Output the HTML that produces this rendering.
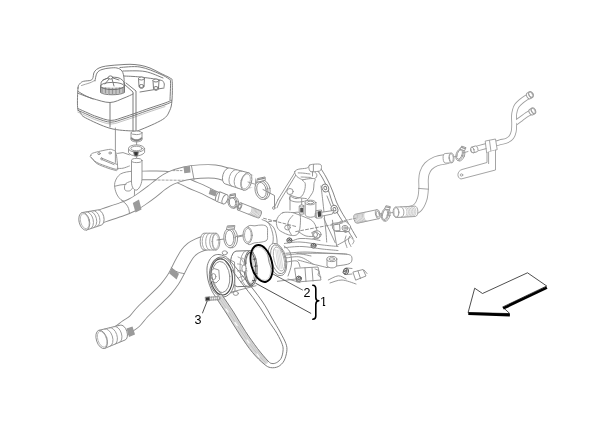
<!DOCTYPE html>
<html><head><meta charset="utf-8">
<style>
html,body{margin:0;padding:0;background:#fff;}
body{width:600px;height:428px;overflow:hidden;}
svg{display:block;}
text{font-family:"Liberation Sans",sans-serif;}
</style></head>
<body>
<svg width="600" height="428" viewBox="0 0 600 428">
<g fill="none" stroke="#8c8c8c" stroke-width="0.9" stroke-linejoin="round" stroke-linecap="round">
<g stroke="#777">
<path d="M317.5,170.3 C318.3,171.6 321,175.4 322.5,178 C324,180.6 325.3,183.4 326.5,186 C327.7,188.6 328.5,190.8 329.5,193.6 C330.5,196.4 331.2,199.9 332.5,203 C333.8,206.1 335.5,209.5 337,212.3 C338.5,215.1 339.9,217 341.6,219.8 C343.3,222.6 345.3,226.1 347.2,229.2 C349.1,232.3 351.9,236.9 352.9,238.5" />
<path d="M320.8,168.5 C321.7,169.9 324.5,174.2 326,177 C327.5,179.8 328.8,182.3 330,185 C331.2,187.7 332.2,190.2 333.3,193 C334.4,195.8 335.2,199 336.5,202 C337.8,205 339.5,208.2 341,211 C342.5,213.8 343.8,215.7 345.5,218.5 C347.2,221.3 349.2,224.8 351,228 C352.8,231.2 355.6,235.9 356.5,237.5" />
<ellipse cx="325.3" cy="188" rx="3.2" ry="4" fill="#fff" transform="rotate(-25 325.3 188)" />
<ellipse cx="325.3" cy="188" rx="1.4" ry="1.8" fill="none" transform="rotate(-25 325.3 188)" />
<ellipse cx="334.5" cy="209.2" rx="3.2" ry="4" fill="#fff" transform="rotate(-25 334.5 209.2)" />
<ellipse cx="334.5" cy="209.2" rx="1.4" ry="1.8" fill="none" transform="rotate(-25 334.5 209.2)" />
<ellipse cx="345.4" cy="228.2" rx="3.2" ry="4" fill="#fff" transform="rotate(-25 345.4 228.2)" />
<ellipse cx="345.4" cy="228.2" rx="1.4" ry="1.8" fill="none" transform="rotate(-25 345.4 228.2)" />
</g>
<path d="M321,186 C321.3,188.3 322.2,195.7 322.7,200 C323.2,204.3 323.6,208.4 324,212 C324.4,215.6 324.5,218.4 324.8,221.7 C325.1,225 325.7,228.6 326,232 C326.3,235.4 326.6,240.3 326.7,242" />
<path d="M324,218.8 L335.2,242.7" />
<path d="M332.4,220.2 L336.6,245.5" />
<path d="M327,196 L331,206" />
<path d="M295.5,171.5 L278,199.5" />
<path d="M297.2,172.8 L280,200.8" />
<path d="M278,199.5 L274.8,206.5" />
<path d="M280,200.8 L277,207.8" />
<path d="M294.7,171.7 C295.1,170.7 296.2,169.9 298.2,169.3 C300.1,168.7 304.5,168.6 306.4,168.2 C308.2,167.8 307.9,166.4 309.3,167 C310.7,167.6 313.2,170.3 314.5,171.7 C315.8,173.1 316.9,174 316.9,175.2 C316.9,176.4 316.3,178 314.5,178.7 C312.7,179.4 307.9,179.3 306,179.5 C304.1,179.7 304.2,180.2 302.9,179.9 C301.6,179.6 299.4,178.3 298.2,177.5 C297,176.7 296.5,176.2 295.9,175.2 C295.3,174.2 294.3,172.7 294.7,171.7 Z" fill="#fff" t="0.3"/>
<path d="M298.2,172.9 C299.2,172.9 302.1,173 304,173.2 C305.9,173.4 308.9,173.9 309.9,174" />
<path d="M301.1,177 C301.9,177 304.4,177.1 306,177.2 C307.6,177.3 310.2,177.4 311,177.5" />
<path d="M302.9,179.9 C301.3,180.7 304.9,181.7 305.2,183.4 C305.5,185.2 305.2,188.3 304.6,190.4 C304,192.5 303.1,194.8 301.7,196.2 C300.3,197.6 297.9,198.5 296,198.6 C294.1,198.7 291.5,196.3 290.5,196.5 C289.5,196.7 288.9,199.1 290,200 C291.1,200.9 294.3,201.9 297,202 C299.7,202.1 304.1,201.7 306.4,200.5 C308.7,199.3 309.8,196.7 311,195 C312.2,193.3 312.9,192.3 313.4,190.4 C313.9,188.5 313.8,185.4 314,183.4 C314.2,181.4 316.4,179.3 314.5,178.7 C312.6,178.1 304.4,179.1 302.9,179.9 Z" fill="#fff" t="0.3"/>
<path d="M290,195 C291.2,195.4 294.3,196.8 297,197.4 C299.7,198 304.8,198.4 306.4,198.6" />
<path d="M309.3,165.3 C310.1,164.6 312.1,164.3 314,164.2 C315.9,164 319.1,163.8 320.4,164.4 C321.6,165 321.5,166.5 321.5,167.5 C321.5,168.5 320.9,170 320.3,170.6 C319.7,171.2 319.6,171.1 318,171.3 C316.4,171.5 312.5,172.2 311,171.7 C309.5,171.2 309.3,169.6 309,168.5 C308.7,167.4 308.5,166 309.3,165.3 Z" fill="#fff" t="0.3"/>
<path d="M313.4,164.5 L313.4,171.2" />
<path d="M312.5,171.5 L312.5,176" />
<ellipse cx="290" cy="191.5" rx="3.2" ry="3" fill="#fff" />
<path d="M301.7,198.6 L301.7,210" />
<path d="M290,196 L290,210" />
<path d="M305.2,202.5 L305.2,215 C307.5,218 313.5,218 315.9,215 L315.9,202.5" fill="#fff"/>
<ellipse cx="310.5" cy="202.5" rx="5.3" ry="2.3" fill="#fff" />
<ellipse cx="310.5" cy="202.5" rx="3.3" ry="1.3" fill="none" />
<path d="M299.6,206 L303.8,205.7 L303.8,214 L299.6,214.3 Z" fill="#fff"/>
<ellipse cx="301.7" cy="206" rx="2.1" ry="1.1" fill="#fff" />
<path d="M300.2,208 L303.2,208 L303.2,212.5 L300.2,212.5 Z" fill="#555" stroke="none"/>
<path d="M315.6,213.2 L333.8,210.4 L332.4,214 L315.6,217.4 Z" fill="#fff"/>
<path d="M316.3,210.6 L321.5,210 L322,217.8 L316.8,218.2 Z" fill="#fff"/>
<path d="M317.5,211.5 L320.8,211 L321.2,216.5 L318,217 Z" fill="#444" stroke="none"/>
<path d="M332.4,223.5 L346,221.5 L350.7,226 L349,231.5 L336,231.5 L333,229 Z" fill="#fff"/>
<ellipse cx="345" cy="228" rx="3" ry="2.6" fill="#fff" />
<ellipse cx="345" cy="228" rx="1.3" ry="1.1" fill="none" />
<path d="M334,224.8 L339.5,224 L340,230.6 L334.5,230.8 Z" fill="#fff"/>
<path d="M346,236 C345.8,236.8 344.8,239.1 345,241 C345.2,242.9 346.7,246.4 347,247.5" />
<path d="M349.5,236.5 C349.3,237.2 348.2,239.3 348.5,241 C348.8,242.7 350.6,245.6 351,246.5" />
<path d="M352,238.5 C352.3,238.9 353.9,240.1 354,241 C354.1,241.9 352.8,243.5 352.5,244" />
<path d="M336.6,245.5 C337.8,244.8 341.6,242.9 344,241.5 C346.4,240.1 349.6,237.8 350.7,237" />
<path d="M283,212.6 C285.6,211.7 290.1,212.4 292.9,212.6 C295.7,212.8 299,210.8 300,214 C301,217.2 300.4,228.4 299,232 C297.6,235.6 294.6,235.7 291.5,235.5 C288.4,235.3 282.7,232.6 280.2,230.9 C277.7,229.2 277.2,227.3 276.7,225.2 C276.2,223.1 276.3,220.3 277.4,218.2 C278.4,216.1 280.4,213.5 283,212.6 Z" fill="#fff" t="0.4"/>
<path d="M292.9,215.4 C292.2,216.3 289.4,218.9 288.6,221 C287.8,223.1 287.5,225.7 288,228 C288.5,230.3 290.9,233.8 291.5,235" />
<path d="M292.9,212.6 C294.8,213.3 300.7,215.4 304,216.8 C307.3,218.2 310.4,219 312.5,221 C314.6,223 316,226.4 316.7,229 C317.4,231.6 316.7,235.2 316.7,236.5" />
<path d="M299,232 C300.2,232.7 303.1,235.2 306,236 C308.9,236.8 314.9,236.4 316.7,236.5" />
<ellipse cx="287.5" cy="227.5" rx="2.8" ry="2.4" fill="none" />
<path d="M263.6,218.3 L296,226.5" stroke-dasharray="3 2" stroke="#858585"/>
<path d="M295.7,231.6 L318,227.3 L342.3,223" stroke-dasharray="3 2" stroke="#858585"/>
<path d="M268.7,221.7 L278,220" stroke-dasharray="3 2" stroke="#858585"/>
<ellipse cx="316.8" cy="234.4" rx="4.2" ry="3.6" fill="#fff" />
<ellipse cx="315.5" cy="234.8" rx="2" ry="2.4" fill="none" />
<path d="M284.4,243.5 C287,243.2 293.7,241.8 300,242 C306.3,242.2 315.7,244.2 322,244.9 C328.3,245.7 335.3,246.2 338,246.5" />
<path d="M284.4,247.7 C287.3,247.5 295.7,246.3 302,246.5 C308.3,246.7 316,248.3 322,249 C328,249.7 335.3,250.2 338,250.5" />
<path d="M285.8,253.3 C289,253.1 297.9,252 305,252 C312.1,252 321.4,252.9 328.3,253.3 C335.2,253.7 343.6,254 346.7,254.2" />
<path d="M286,258 C288.3,257.8 295.4,256 300,257 C304.6,258 311.1,263 313.3,264.2" />
<path d="M292,241 C293.3,240.6 296.8,238.8 300,238.5 C303.2,238.2 307.7,238.7 311,239 C314.3,239.3 318.5,240.2 320,240.5" />
<path d="M311.4,233 C312,232.8 313.6,231.2 315,231.5 C316.4,231.8 319.3,233.8 319.8,235 C320.3,236.2 319.1,237.9 318,238.5 C316.9,239.1 313.8,238.5 313,238.5" />
<path d="M296.7,253.3 C302.2,253.3 321.7,253.2 330,253.3 C338.3,253.5 343.1,253.6 346.7,254.2 C350.3,254.8 351.1,255.2 351.7,256.7 C352.2,258.2 352.5,261.8 350,263.3 C347.5,264.9 340.6,265.3 336.7,266 C332.8,266.7 328.4,267.2 326.7,267.5" />
<path d="M298,260 C300.6,260.7 308.5,262.9 313.3,264.2 C318.1,265.4 324.5,266.9 326.7,267.5" />
<path d="M327,259.5 L327,266 C329,268.5 335,268.5 336.7,266 L336.7,259.5" fill="#fff"/>
<ellipse cx="331.8" cy="259" rx="5" ry="2.6" fill="#fff" />
<ellipse cx="331.8" cy="259" rx="2.8" ry="1.3" fill="none" />
<ellipse cx="289.4" cy="240.4" rx="2.6" ry="2.3" fill="#c8c8c8" stroke="#666"/>
<ellipse cx="289.4" cy="239.4" rx="2.2" ry="1.4" fill="#eee" stroke="#555"/>
<ellipse cx="289.4" cy="239.4" rx="0.9" ry="0.7" fill="#555" stroke="none"/>
<ellipse cx="313.5" cy="245.8" rx="2.6" ry="2.3" fill="#c8c8c8" stroke="#666"/>
<ellipse cx="313.5" cy="244.8" rx="2.2" ry="1.4" fill="#eee" stroke="#555"/>
<ellipse cx="313.5" cy="244.8" rx="0.9" ry="0.7" fill="#555" stroke="none"/>
<g transform="translate(345.4,271.2) rotate(-70)">
<ellipse cx="0" cy="0.6" rx="3.3" ry="2.6" fill="#c8c8c8" stroke="#666"/>
<ellipse cx="0" cy="-0.4" rx="2.8" ry="1.6" fill="#eee" stroke="#555"/>
<ellipse cx="0" cy="-0.4" rx="1.2" ry="0.8" fill="#555" stroke="none"/>
</g>
<path d="M347,268 L352,268.5" />
<path d="M347,274.5 L352,274" />
<path d="M353.3,272 L363,269.5 L366,276 L356,280 Z" fill="#fff"/>
<path d="M358,271 L360.5,278.5" />
<path d="M364,270 L367,273.5" />
<path d="M295,268.3 L318,267 L321,280 L297,282 Z" fill="#fff"/>
<ellipse cx="298.8" cy="278.8" rx="2.6" ry="2.6" fill="#c8c8c8" stroke="#666"/>
<ellipse cx="298.8" cy="277.8" rx="2.2" ry="1.6" fill="#eee" stroke="#555"/>
<ellipse cx="298.8" cy="277.8" rx="0.9" ry="0.8" fill="#555" stroke="none"/>
<path d="M305,268 L306,281.5" />
<path d="M312,267.8 L313,281" />
<path d="M315,269 C315.7,269.3 318.5,270 319,271 C319.5,272 317.7,274 318,275 C318.3,276 320.5,276.7 321,277" />
<path d="M328.3,280 C330,279.3 335.4,276 338.3,275.8 C341.2,275.6 344.7,278.5 346,279" />
<path d="M330,283 C332,282.5 337.7,279.8 342,280 C346.3,280.2 353.7,283.3 356,284" />
<path d="M277.4,281.3 L296,279" />
<path d="M262,219.6 C263.2,220.3 267.1,221 269,223.8 C270.9,226.6 272.7,232.3 273.2,236.5 C273.7,240.7 272,246.9 271.8,249" />
<path d="M266,221 C267.3,222.2 272.2,224.8 274,228 C275.8,231.2 276.6,236.3 277,240 C277.4,243.7 276.6,248.3 276.5,250" />
<ellipse cx="277.4" cy="259.5" rx="8.8" ry="16.6" fill="#fff" transform="rotate(-14 277.4 259.5)" />
<ellipse cx="278.2" cy="259.3" rx="7" ry="14.8" fill="none" transform="rotate(-14 278.2 259.3)" />
<ellipse cx="279" cy="259" rx="5" ry="12.4" fill="none" transform="rotate(-14 279 259)" stroke="#aaa"/>
<path d="M275.6,249.5 L278.4,269" stroke="#c0c0c0" stroke-width="0.6"/>
<path d="M277.1,249.8 L279.9,268.7" stroke="#c0c0c0" stroke-width="0.6"/>
<path d="M278.6,250.1 L281.4,268.4" stroke="#c0c0c0" stroke-width="0.6"/>
<path d="M280.1,250.4 L282.9,268.1" stroke="#c0c0c0" stroke-width="0.6"/>
<path d="M284,246 C285,247 288.8,249 290,252 C291.2,255 291.8,260 291.5,264 C291.2,268 288.6,274 288,276" />
<path d="M288,279 L300,282.5" />
<path d="M286,255 C288.3,254.8 295.8,253.8 300,254 C304.2,254.2 309.2,255.7 311,256" />
<path d="M287,262 C288.7,261.8 294.8,260.2 297,261 C299.2,261.8 299.5,266 300,267" />
<g stroke="#6e6e6e">
<path d="M78,88 C78.4,84 79.1,84.7 80,83.6 C80.9,82.5 81.7,81.8 83.5,81.3 C85.3,80.8 89.2,80.9 90.8,80.3 C92.4,79.7 92.5,78.8 93,77.6 C93.5,76.4 93.2,74.4 93.8,73 C94.4,71.6 95.2,70.4 96.6,69.4 C98,68.4 99.8,67.5 102,66.9 C104.2,66.3 107,65.9 110,65.6 C113,65.2 116.7,65 120,64.8 C123.3,64.6 126.7,64.2 130,64.3 C133.3,64.4 136.7,64.6 140,65.2 C143.3,65.8 146.7,66.7 150,68 C153.3,69.3 156.7,71.3 160,73 C163.3,74.7 168,76.6 170,78 C172,79.4 171.9,77.8 172.2,81.5 C172.5,85.2 172.4,95.1 172,100 C171.6,104.9 171.2,107.5 169.6,110.8 C168,114 167.6,116.3 162.6,119.5 C157.6,122.7 144.8,128.1 139.8,130 C134.8,131.9 137.8,131.3 132.8,131 C127.8,130.7 117.9,130.5 110,128.3 C102.1,126.1 90.5,120.4 85.5,117.8 C80.5,115.2 81.6,114.2 80.3,112.5 C79,110.8 78,111.4 77.6,107.3 C77.2,103.2 77.6,92 78,88 Z" fill="#fff" t="0.3"/>
<path d="M81.5,85.5 C82.9,85 87.8,83.6 90,82.8 C92.2,82 93.8,80.9 94.5,80.5" stroke="#9a9a9a"/>
<path d="M95,81 C95.3,79.7 95.8,74.9 97,73 C98.2,71.1 99.8,70.3 102,69.5 C104.2,68.7 107.5,68.2 110,68 C112.5,67.8 115,67.5 117,68 C119,68.5 120.8,69.3 122,71 C123.2,72.7 123.7,75.8 124,78 C124.3,80.2 124,83 124,84" />
<path d="M120,67.5 C123.3,67.4 133.3,65.9 140,67 C146.7,68.1 155.2,72 160,74 C164.8,76 167.2,77.7 169,79 C170.8,80.3 170.3,78.5 170.5,82 C170.7,85.5 170.1,97 170,100" />
<path d="M123,71 C126.7,71.1 138.3,70.3 145,71.5 C151.7,72.7 160,76.9 163,78" />
<path d="M124,76 C126.7,76.2 134,76.3 140,77 C146,77.7 156,79 160,80 C164,81 163.3,81.8 164,83 C164.7,84.2 164,86.3 164,87" />
<path d="M140,92 L164,88" />
<path d="M78.5,93.5 C80.8,94.3 87.2,97 92.5,98.5 C97.8,100 104.8,102.6 110,102.5 C115.2,102.4 120.2,99.4 124,98 C127.8,96.6 131.5,94.7 133,94" />
<path d="M77.8,108.5 C79.5,109.2 84.8,111.6 88,113 C91.2,114.4 93.2,115.5 97,116.7 C100.8,117.9 106.5,120.4 111,120.4 C115.5,120.5 120,118.2 124,117 C128,115.8 130.7,114.8 135,113.3 C139.3,111.8 145,109.7 150,108 C155,106.3 161.4,104.3 165,103 C168.6,101.7 170.4,100.8 171.5,100.3" t="0.4"/>
<path d="M77.8,110.3 C79.5,111 84.8,113.4 88,114.8 C91.2,116.2 93.2,117.3 97,118.5 C100.8,119.7 106.5,122.2 111,122.2 C115.5,122.2 120,120 124,118.8 C128,117.6 130.7,116.6 135,115.1 C139.3,113.6 145,111.5 150,109.8 C155,108.1 161.4,106.1 165,104.8 C168.6,103.5 170.4,102.5 171.5,102.1" t="0.4"/>
<path d="M77.8,112.1 C79.5,112.8 84.8,115.2 88,116.6 C91.2,118 93.2,119.1 97,120.3 C100.8,121.5 106.5,124 111,124 C115.5,124 120,121.8 124,120.6 C128,119.4 130.7,118.4 135,116.9 C139.3,115.4 145,113.3 150,111.6 C155,109.9 162.5,107.4 165,106.6" t="0.4" stroke="#999" stroke-width="0.6"/>
<path d="M78.2,91.5 C79.3,92.2 82.5,94.2 85,95.5 C87.5,96.8 91.7,98.4 93,99" t="0.4"/>
<path d="M124,84 L133,92 L133,131" />
<path d="M126,83 L136,91 L136,131" />
<path d="M110,103 L110,127" />
<path d="M100.5,86 L100.5,92.5 C104,95.5 120,95.5 124.5,92.5 L124.5,86" fill="#fff"/>
<ellipse cx="112.5" cy="86" rx="12" ry="3.6" fill="#fff" />
<path d="M101.3,87.2 L101.3,92.3" stroke-width="0.7" stroke="#666"/>
<path d="M102.7,87.4 L102.7,92.6" stroke-width="0.7" stroke="#666"/>
<path d="M104.1,87.5 L104.1,92.9" stroke-width="0.7" stroke="#666"/>
<path d="M105.5,87.7 L105.5,93.2" stroke-width="0.7" stroke="#666"/>
<path d="M106.9,87.8 L106.9,93.4" stroke-width="0.7" stroke="#666"/>
<path d="M108.3,87.9 L108.3,93.6" stroke-width="0.7" stroke="#666"/>
<path d="M109.7,88 L109.7,93.8" stroke-width="0.7" stroke="#666"/>
<path d="M111.1,88.1 L111.1,93.9" stroke-width="0.7" stroke="#666"/>
<path d="M112.5,88.1 L112.5,93.9" stroke-width="0.7" stroke="#666"/>
<path d="M113.9,88.1 L113.9,93.9" stroke-width="0.7" stroke="#666"/>
<path d="M115.3,88 L115.3,93.8" stroke-width="0.7" stroke="#666"/>
<path d="M116.7,87.9 L116.7,93.6" stroke-width="0.7" stroke="#666"/>
<path d="M118.1,87.8 L118.1,93.4" stroke-width="0.7" stroke="#666"/>
<path d="M119.5,87.7 L119.5,93.2" stroke-width="0.7" stroke="#666"/>
<path d="M120.9,87.5 L120.9,92.9" stroke-width="0.7" stroke="#666"/>
<path d="M122.3,87.4 L122.3,92.6" stroke-width="0.7" stroke="#666"/>
<path d="M123.7,87.2 L123.7,92.3" stroke-width="0.7" stroke="#666"/>
<path d="M101,86 C101.2,85.2 100.5,82.4 102,81 C103.5,79.6 107.2,78 110,77.5 C112.8,77 116.7,77.2 119,78 C121.3,78.8 123.1,80.7 124,82 C124.9,83.3 124.4,85.3 124.5,86" />
<ellipse cx="110.5" cy="77.5" rx="2.2" ry="1.6" fill="#fff" />
<path d="M109,79 L105,84" />
<path d="M112,79 L114,86" />
<path d="M108,78 L103,80" />
<path d="M113,78 L119,80" />
<path d="M138.5,78.5 L139.0,86.5 C139.5,89.0 143.5,89.0 144.0,86.5 L144.5,78.5" fill="#fff"/>
<ellipse cx="141.5" cy="78.5" rx="3" ry="1.5" fill="#fff" />
<ellipse cx="141.5" cy="86" rx="2.2" ry="1.5" fill="none" />
<path d="M153,80.5 L153.5,88.5 C154,91.0 158,91.0 158.5,88.5 L159,80.5" fill="#fff"/>
<ellipse cx="156" cy="80.5" rx="3" ry="1.5" fill="#fff" />
<ellipse cx="156" cy="88" rx="2.2" ry="1.5" fill="none" />
</g>
<path d="M90.8,155.6 C91.2,154.9 90.3,154 93.2,153 C96.1,152 105.1,150 108.4,149.5 C111.7,149 111.7,149.5 113,150.1 C114.3,150.7 115.2,150 116,153 C116.8,156 117.6,165.5 117.7,168.2 C117.8,170.9 118,169.6 116.5,169.4 C115,169.2 111.7,168.2 108.4,167 C105.1,165.8 99.7,164.1 96.7,162.4 C93.7,160.7 91.6,158.1 90.6,157 C89.6,155.9 90.4,156.3 90.8,155.6 Z" fill="#fff" t="0.15"/>
<path d="M91.5,157.5 C92.4,158.5 94.2,161.8 97,163.6 C99.8,165.4 104.8,167 108,168.2 C111.2,169.4 115,170.2 116.4,170.6" t="0.3"/>
<path d="M117.5,153.4 L123,152.6 L129.4,154.8" />
<path d="M117.2,168.4 C118.2,168.4 121,168.6 123,168.2 C125,167.8 128.3,166.4 129.4,166" t="0.4"/>
<ellipse cx="99" cy="153.6" rx="1.3" ry="1" fill="none" />
<ellipse cx="110.1" cy="153" rx="1.3" ry="1" fill="none" />
<path d="M101.4,158 L117,164.4" />
<path d="M102.4,159.8 L114,164.6" />
<ellipse cx="101.6" cy="158.8" rx="0.9" ry="1" fill="none" />
<path d="M115.4,128 L115.4,162.4" />
<path d="M131,132.8 L131,140 C133,142.5 140,142.5 142,140 L142,132.8" fill="#fff"/>
<ellipse cx="136.5" cy="132.8" rx="5.5" ry="1.8" fill="#fff" />
<path d="M131.5,138.2 C134,141 139,141 141.5,138.2" stroke-width="1.9" stroke="#858585" stroke-dasharray="0.7 0.6"/>
<path d="M136.6,141.5 L136.6,158" />
<path d="M128.5,148.5 L128.5,152.5 C131,157 141,157 144.6,152.5 L144.6,148.5" fill="#fff"/>
<ellipse cx="136.5" cy="148.5" rx="8" ry="3.6" fill="#fff" />
<ellipse cx="136.5" cy="148.5" rx="5.7" ry="2.3" fill="none" />
<path d="M133.6,152 L134.4,156 L137.8,156 L138.3,152 Z" fill="#333" stroke="#8c8c8c"/>
<path d="M133,175.5 C135.8,175.5 144.7,175.4 150,175.4 C155.3,175.4 160.5,175.2 165,175.6 C169.5,176 172.8,176.6 177,178 C181.2,179.4 185.5,182 190,184 C194.5,186 199.8,188.1 204,190 C208.2,191.9 211.6,194 215,195.5 C218.4,197 222.9,198.6 224.5,199.2" stroke="#8c8c8c" stroke-width="9.6"/>
<path d="M133,175.5 C135.8,175.5 144.7,175.4 150,175.4 C155.3,175.4 160.5,175.2 165,175.6 C169.5,176 172.8,176.6 177,178 C181.2,179.4 185.5,182 190,184 C194.5,186 199.8,188.1 204,190 C208.2,191.9 211.6,194 215,195.5 C218.4,197 222.9,198.6 224.5,199.2" stroke="#fff" stroke-width="7.8" stroke-linecap="square"/>
<g transform="translate(225,199.3) rotate(-158)">
<path d="M0,-5 L7,-5 A2.5,5 0 0 1 7,5 L0,5 Z" fill="#fff"/>
<ellipse cx="0" cy="0" rx="2.5" ry="5" fill="#fff"/>
</g>
<path d="M210.2,189 L217,191.4 L215.5,196.6 L208.7,194 Z" fill="#9a9a9a" stroke="none"/>
<path d="M219.8,192.2 L217.8,201" />
<path d="M132,171.2 C129.8,171.5 123.3,172.1 120.5,174 C117.7,175.9 115.7,179.4 114.9,182.4 C114.1,185.4 114.9,189 115.8,191.8 C116.7,194.6 118.5,197.6 120.5,199.3 C122.5,201 125.8,201.9 128,202 C130.2,202.1 133,205 134,200 C135,195 134.3,176.8 134,172 C133.7,167.2 134.2,170.9 132,171.2 Z" fill="#fff"/>
<path d="M132.6,180.6 C131.5,181.1 127.3,182.3 126,183.4 C124.7,184.5 124.6,185.8 124.5,187 C124.4,188.2 124.6,189.9 125.5,190.5 C126.4,191.1 128.6,191.2 129.8,190.8 C131,190.4 132.1,188.5 132.5,188" />
<path d="M115,186.2 L120,185 L126,184.3" />
<path d="M131.5,160.5 L131.5,182 C131.5,187 134,191 137,190 C140,188 142,183 142,178 L142,160.5" fill="#fff"/>
<ellipse cx="136.7" cy="160.5" rx="5.2" ry="2.1" fill="#fff" />
<path d="M86,221 C89,220 98,217.2 104,215.2 C110,213.2 117.3,210.9 122,209.2 C126.7,207.5 128.8,206.6 132,205 C135.2,203.4 137.7,201.8 141,199.5 C144.3,197.2 148.5,194.2 152,191.5 C155.5,188.8 158.8,185.8 162,183.5 C165.2,181.2 167.2,179.7 171,178 C174.8,176.3 180.2,174.6 185,173.5 C189.8,172.4 195,171.9 200,171.6 C205,171.3 210.8,171.2 215,171.6 C219.2,172 221.8,172.8 225,174 C228.2,175.2 231.2,177.4 234,178.5 C236.8,179.6 239.5,180.1 242,180.5 C244.5,180.9 247.8,181.1 249,181.2" stroke="#8c8c8c" stroke-width="14.3"/>
<path d="M86,221 C89,220 98,217.2 104,215.2 C110,213.2 117.3,210.9 122,209.2 C126.7,207.5 128.8,206.6 132,205 C135.2,203.4 137.7,201.8 141,199.5 C144.3,197.2 148.5,194.2 152,191.5 C155.5,188.8 158.8,185.8 162,183.5 C165.2,181.2 167.2,179.7 171,178 C174.8,176.3 180.2,174.6 185,173.5 C189.8,172.4 195,171.9 200,171.6 C205,171.3 210.8,171.2 215,171.6 C219.2,172 221.8,172.8 225,174 C228.2,175.2 231.2,177.4 234,178.5 C236.8,179.6 239.5,180.1 242,180.5 C244.5,180.9 247.8,181.1 249,181.2" stroke="#fff" stroke-width="12.5" stroke-linecap="square"/>
<path d="M154,180 L184,180.3" stroke-dasharray="2.2 1.8" stroke="#999"/>
<path d="M173,170.6 L182,170.6" stroke-dasharray="2 1.6" stroke="#999"/>
<path d="M121.7,200.5 C122.4,201.1 124.8,202.7 126,204 C127.2,205.3 128,207 128.6,208.5 C129.2,210 129.3,212.2 129.4,213" />
<path d="M132.8,203 L139,199.5 L141.5,209.5 L135.5,212.5 Z" fill="#9a9a9a" stroke="none"/>
<path d="M183.5,166.8 L190,166 L190.5,172.6 L184.3,173.3 Z" fill="#9a9a9a" stroke="none"/>
<path d="M191.5,166 L194,179.5" />
<g transform="translate(246.3,181.5) rotate(-163.5)">
<path d="M0,-9 L19.5,-8.3 A4.8,8.3 0 0 1 19.5,8.3 L0,9 Z" fill="#fff"/>
<path d="M7,-8.7 A5.1,8.7 0 0 1 7,8.7" stroke="#9c9c9c"/>
<path d="M12.5,-8.6 A5,8.6 0 0 1 12.5,8.6" stroke="#9c9c9c"/>
<ellipse cx="0" cy="0" rx="5.2" ry="9" fill="#fff"/>
<ellipse cx="0.5" cy="0" rx="4.2" ry="7.7" stroke="#a0a0a0" stroke-width="0.7"/>
</g>
<path d="M248,182 L256,184.5" stroke="#999"/>
<g transform="translate(84.3,221.3) rotate(-14)">
<path d="M0,-9 L15.5,-7.8 A4.5,7.8 0 0 1 15.5,7.8 L0,9 Z" fill="#fff"/>
<path d="M4,-8.7 A5,8.7 0 0 1 4,8.7" stroke="#9c9c9c"/>
<path d="M7.5,-8.4 A4.9,8.4 0 0 1 7.5,8.4" stroke="#9c9c9c"/>
<path d="M11,-8.1 A4.7,8.1 0 0 1 11,8.1" stroke="#9c9c9c"/>
<ellipse cx="0" cy="0" rx="5.2" ry="9" fill="#fff"/>
<ellipse cx="0.5" cy="0" rx="4.2" ry="7.7" stroke="#a0a0a0" stroke-width="0.7"/>
</g>
<path d="M106,337.5 C108,336.8 114.5,334.8 118,333 C121.5,331.2 124.2,328.4 127,326.5 C129.8,324.6 132,323.6 134.5,321.3 C137,319 139.4,315.3 142,312.5 C144.6,309.7 147.3,307.3 150,304.7 C152.7,302.1 155.4,299.5 158,297 C160.6,294.5 163.1,292.3 165.5,289.5 C167.9,286.7 170.5,283.4 172.6,280.3 C174.7,277.2 176.2,274.1 177.8,271 C179.4,267.9 180.8,264.8 182.4,262 C184,259.2 185.6,256.2 187.2,254 C188.8,251.8 190.2,250.4 192,249 C193.8,247.6 195.8,246.5 198,245.5 C200.2,244.5 202.8,243.6 205,243 C207.2,242.4 210,242.2 211,242" stroke="#8c8c8c" stroke-width="15"/>
<path d="M106,337.5 C108,336.8 114.5,334.8 118,333 C121.5,331.2 124.2,328.4 127,326.5 C129.8,324.6 132,323.6 134.5,321.3 C137,319 139.4,315.3 142,312.5 C144.6,309.7 147.3,307.3 150,304.7 C152.7,302.1 155.4,299.5 158,297 C160.6,294.5 163.1,292.3 165.5,289.5 C167.9,286.7 170.5,283.4 172.6,280.3 C174.7,277.2 176.2,274.1 177.8,271 C179.4,267.9 180.8,264.8 182.4,262 C184,259.2 185.6,256.2 187.2,254 C188.8,251.8 190.2,250.4 192,249 C193.8,247.6 195.8,246.5 198,245.5 C200.2,244.5 202.8,243.6 205,243 C207.2,242.4 210,242.2 211,242" stroke="#fff" stroke-width="13.2" stroke-linecap="square"/>
<path d="M171.5,268.1 L179,273.7 L176.6,279.4 L169.1,273.3 Z" fill="#999" stroke="none"/>
<path d="M171.2,267.6 C172.2,268.3 174.9,270.8 177,271.8 C179.1,272.8 182.8,273.3 184,273.6" stroke="#888"/>
<path d="M126.5,328.5 L132.5,326.5 L135,334.5 L129,337 Z" fill="#9a9a9a" stroke="none"/>
<g transform="translate(216,241.6) rotate(180)">
<path d="M0,-8.4 L12,-8.4 A3.8,8.4 0 0 1 12,8.4 L0,8.4 Z" fill="#fff"/>
<path d="M2.5,-8.4 A3.8,8.4 0 0 1 2.5,8.4" stroke="#9c9c9c"/>
<path d="M6.5,-8.4 A3.8,8.4 0 0 1 6.5,8.4" stroke="#9c9c9c"/>
<path d="M10,-8.4 A3.8,8.4 0 0 1 10,8.4" stroke="#9c9c9c"/>
<ellipse cx="0" cy="0" rx="3.8" ry="8.4" fill="#fff"/>
<ellipse cx="0.4" cy="0" rx="3" ry="7.2" stroke="#a0a0a0" stroke-width="0.7"/>
</g>
<g transform="translate(101.7,339.4) rotate(-18)">
<path d="M0,-9.5 L22,-7.8 A4.4,7.8 0 0 1 22,7.8 L0,9.5 Z" fill="#fff"/>
<path d="M6,-9 A5.1,9 0 0 1 6,9" stroke="#9c9c9c"/>
<path d="M11,-8.7 A4.8,8.7 0 0 1 11,8.7" stroke="#9c9c9c"/>
<path d="M16,-8.3 A4.6,8.3 0 0 1 16,8.3" stroke="#9c9c9c"/>
<ellipse cx="0" cy="0" rx="5.3" ry="9.5" fill="#fff"/>
<ellipse cx="0.5" cy="0" rx="4.3" ry="8.2" stroke="#a0a0a0" stroke-width="0.7"/>
</g>
<g stroke="#9a9a9a">
<path d="M446,159.2 C444.3,159.5 438.9,160.1 436,161.3 C433.1,162.5 430.2,164.4 428.3,166.3 C426.4,168.2 425.3,170.7 424.5,173 C423.7,175.3 423.6,177.3 423.5,180 C423.4,182.7 423.8,185.8 423.6,189 C423.4,192.2 423.2,195.9 422.2,199 C421.2,202.1 419.8,205.7 417.4,207.8 C414.9,209.9 410.7,211 407.5,211.8 C404.3,212.6 399.6,212.5 398,212.6" stroke="#a0a0a0" stroke-width="10.4"/>
<path d="M446,159.2 C444.3,159.5 438.9,160.1 436,161.3 C433.1,162.5 430.2,164.4 428.3,166.3 C426.4,168.2 425.3,170.7 424.5,173 C423.7,175.3 423.6,177.3 423.5,180 C423.4,182.7 423.8,185.8 423.6,189 C423.4,192.2 423.2,195.9 422.2,199 C421.2,202.1 419.8,205.7 417.4,207.8 C414.9,209.9 410.7,211 407.5,211.8 C404.3,212.6 399.6,212.5 398,212.6" stroke="#fff" stroke-width="8.6" stroke-linecap="square"/>
<path d="M418.4,188.4 L428.6,189.2" />
<g transform="translate(396,212.3) rotate(-3)">
<path d="M0,-5.2 L19,-5.2 A2.9,5.2 0 0 1 19,5.2 L0,5.2 Z" fill="#fff"/>
<path d="M5,-5.2 A2.9,5.2 0 0 1 5,5.2" stroke="#9c9c9c"/>
<path d="M8,-5.2 A2.9,5.2 0 0 1 8,5.2" stroke="#a8a8a8" stroke-width="0.6"/>
<path d="M9.5,-5.2 A2.9,5.2 0 0 1 9.5,5.2" stroke="#a8a8a8" stroke-width="0.6"/>
<path d="M11,-5.2 A2.9,5.2 0 0 1 11,5.2" stroke="#a8a8a8" stroke-width="0.6"/>
<path d="M12.5,-5.2 A2.9,5.2 0 0 1 12.5,5.2" stroke="#a8a8a8" stroke-width="0.6"/>
<path d="M14,-5.2 A2.9,5.2 0 0 1 14,5.2" stroke="#a8a8a8" stroke-width="0.6"/>
<path d="M15.5,-5.2 A2.9,5.2 0 0 1 15.5,5.2" stroke="#a8a8a8" stroke-width="0.6"/>
<path d="M17,-5.2 A2.9,5.2 0 0 1 17,5.2" stroke="#a8a8a8" stroke-width="0.6"/>
<ellipse cx="0" cy="0" rx="2.9" ry="5.2" fill="#fff"/>
<ellipse cx="0.3" cy="0" rx="2.3" ry="4.5" stroke="#a0a0a0" stroke-width="0.7"/>
</g>
<g transform="translate(451.5,157.9) rotate(176)">
<path d="M0,-4.8 L6,-4.8 A2.4,4.8 0 0 1 6,4.8 L0,4.8 Z" fill="#fff"/>
<ellipse cx="0" cy="0" rx="2.4" ry="4.8" fill="#fff"/>
<ellipse cx="0.2" cy="0" rx="1.9" ry="4.1" stroke="#a0a0a0" stroke-width="0.7"/>
</g>
<g transform="translate(385,214.5) rotate(12)">
<ellipse cx="1.6" cy="0" rx="3.4" ry="6.4" fill="#fff"/>
<path d="M0,-6.4 L1.6,-6.4 M0,6.4 L1.6,6.4"/>
<ellipse cx="0" cy="0" rx="3.4" ry="6.4" fill="#fff"/>
<ellipse cx="0" cy="0" rx="2.4" ry="5.1"/>
<path d="M-1.5,-5.6 L-0.9,-8.8 L3.7,-8.8 L3.4,-5.8 Z" fill="#fff"/>
<path d="M-0.6,-7.6 L3.1,-7.6" stroke-width="1.2"/>
</g>
<g transform="translate(377.8,214.2) rotate(168)">
<path d="M0,-4.6 L22,-4.6 A2.3,4.6 0 0 1 22,4.6 L0,4.6 Z" fill="#fff"/>
<path d="M12,-4.6 A2.3,4.6 0 0 1 12,4.6" stroke="#a8a8a8" stroke-width="0.6"/>
<path d="M13.3,-4.6 A2.3,4.6 0 0 1 13.3,4.6" stroke="#a8a8a8" stroke-width="0.6"/>
<path d="M14.6,-4.6 A2.3,4.6 0 0 1 14.6,4.6" stroke="#a8a8a8" stroke-width="0.6"/>
<path d="M15.9,-4.6 A2.3,4.6 0 0 1 15.9,4.6" stroke="#a8a8a8" stroke-width="0.6"/>
<path d="M17.1,-4.6 A2.3,4.6 0 0 1 17.1,4.6" stroke="#a8a8a8" stroke-width="0.6"/>
<path d="M18.4,-4.6 A2.3,4.6 0 0 1 18.4,4.6" stroke="#a8a8a8" stroke-width="0.6"/>
<path d="M19.7,-4.6 A2.3,4.6 0 0 1 19.7,4.6" stroke="#a8a8a8" stroke-width="0.6"/>
<path d="M21,-4.6 A2.3,4.6 0 0 1 21,4.6" stroke="#a8a8a8" stroke-width="0.6"/>
<ellipse cx="0" cy="0" rx="2.3" ry="4.6" fill="#fff"/>
</g>
<ellipse cx="377.8" cy="214.2" rx="1.6" ry="3" fill="none" transform="rotate(-12 377.8 214.2)" />
<path d="M340,221.5 L356,218.2" stroke-dasharray="3 1.5"/>
<path d="M379,214 L382,213.5" />
<path d="M389,213 L393,212.5" />
<g transform="translate(459.6,154.5) rotate(20)">
<ellipse cx="1.6" cy="0" rx="3.4" ry="6.2" fill="#fff"/>
<path d="M0,-6.2 L1.6,-6.2 M0,6.2 L1.6,6.2"/>
<ellipse cx="0" cy="0" rx="3.4" ry="6.2" fill="#fff"/>
<ellipse cx="0" cy="0" rx="2.4" ry="5"/>
<path d="M-1.5,-5.4 L-0.9,-8.6 L3.7,-8.6 L3.4,-5.6 Z" fill="#fff"/>
<path d="M-0.6,-7.4 L3.1,-7.4" stroke-width="1.2"/>
</g>
<path d="M453.5,157 L457,156" />
<path d="M463,153 L468,151.5" />
<path d="M530.9,94.8 C530.1,95.3 527.6,96.7 526,97.8 C524.4,98.9 522.5,100.2 521,101.5 C519.5,102.8 518,104.1 517,105.5 C516,106.9 515.5,108.2 515,110 C514.5,111.8 514.1,113.7 514,116 C513.9,118.3 514.2,121.4 514.2,124 C514.2,126.6 514.2,129.3 513.7,131.5 C513.2,133.7 512.6,135.5 511.5,137 C510.4,138.5 508.9,139.6 507,140.5 C505.1,141.4 502.8,141.6 500,142.3 C497.2,143.1 493.7,144 490,145 C486.3,146 480.8,147.5 478,148.3 C475.2,149.1 473.8,149.7 473,150" stroke="#a0a0a0" stroke-width="5.8"/>
<path d="M533.3,111 C532.2,111.6 529,113.2 527,114.5 C525,115.8 523.3,117.2 521.5,118.5 C519.7,119.8 516.9,121.8 516,122.5" stroke="#a0a0a0" stroke-width="5.4"/>
<path d="M530.9,94.8 C530.1,95.3 527.6,96.7 526,97.8 C524.4,98.9 522.5,100.2 521,101.5 C519.5,102.8 518,104.1 517,105.5 C516,106.9 515.5,108.2 515,110 C514.5,111.8 514.1,113.7 514,116 C513.9,118.3 514.2,121.4 514.2,124 C514.2,126.6 514.2,129.3 513.7,131.5 C513.2,133.7 512.6,135.5 511.5,137 C510.4,138.5 508.9,139.6 507,140.5 C505.1,141.4 502.8,141.6 500,142.3 C497.2,143.1 493.7,144 490,145 C486.3,146 480.8,147.5 478,148.3 C475.2,149.1 473.8,149.7 473,150" stroke="#fff" stroke-width="4" stroke-linecap="butt"/>
<path d="M533.3,111 C532.2,111.6 529,113.2 527,114.5 C525,115.8 523.3,117.2 521.5,118.5 C519.7,119.8 516.9,121.8 516,122.5" stroke="#fff" stroke-width="3.6" stroke-linecap="butt"/>
<g transform="translate(530.9,94.6) rotate(148)">
<path d="M0,-3.3 L2.5,-3.3 A2,3.3 0 0 1 2.5,3.3 L0,3.3 Z" fill="#fff"/>
<ellipse cx="0" cy="0" rx="2" ry="3.3" fill="#fff"/>
<ellipse cx="0.2" cy="0" rx="1.6" ry="2.8" stroke="#a0a0a0" stroke-width="0.7"/>
</g>
<g transform="translate(533.4,110.8) rotate(150)">
<path d="M0,-3.2 L2.5,-3.2 A2,3.2 0 0 1 2.5,3.2 L0,3.2 Z" fill="#fff"/>
<ellipse cx="0" cy="0" rx="2" ry="3.2" fill="#fff"/>
<ellipse cx="0.2" cy="0" rx="1.6" ry="2.8" stroke="#a0a0a0" stroke-width="0.7"/>
</g>
<path d="M485.6,141 L495.5,139 L497.2,149.6 L487,152.6 Z" fill="#fff"/>
<path d="M489.5,140.6 L491,151.6" />
<g transform="translate(472.5,150) rotate(-17)">
<path d="M0,-3 L4,-3 A1.5,3 0 0 1 4,3 L0,3 Z" fill="#fff"/>
<ellipse cx="0" cy="0" rx="1.5" ry="3" fill="#fff"/>
</g>
<path d="M487,152.6 L487,162.5 L462,169.5 C457,171 456.5,177.8 461,179 L495.5,170 L495.5,150.2" fill="#fff"/>
<path d="M488.6,152.4 L488.6,163.6" />
<ellipse cx="461.5" cy="175" rx="1.3" ry="1.1" fill="none" />
</g>
<g transform="translate(261.5,190) rotate(-12)">
<ellipse cx="2.2" cy="0" rx="6.4" ry="9.6" fill="#fff"/>
<path d="M0,-9.6 L2.2,-9.6 M0,9.6 L2.2,9.6"/>
<ellipse cx="0" cy="0" rx="6.4" ry="9.6" fill="#fff"/>
<ellipse cx="0" cy="0" rx="4.6" ry="7.7"/>
<path d="M-2.9,-8.8 L-1.7,-12 L6.2,-12 L5.7,-9 Z" fill="#fff"/>
<path d="M-1.2,-10.8 L5.1,-10.8" stroke-width="1.2"/>
</g>
<path d="M263,189.5 L274.5,195.5 L274.5,207" stroke="#858585"/>
<ellipse cx="273.8" cy="208" rx="1.2" ry="1.4" fill="none" />
<g transform="translate(232.5,202.4) rotate(-10)">
<ellipse cx="1.6" cy="0" rx="4.4" ry="5.8" fill="#fff"/>
<path d="M0,-5.8 L1.6,-5.8 M0,5.8 L1.6,5.8"/>
<ellipse cx="0" cy="0" rx="4.4" ry="5.8" fill="#fff"/>
<ellipse cx="0" cy="0" rx="3.2" ry="4.6"/>
<path d="M-2,-5 L-1.2,-8.2 L4.4,-8.2 L4,-5.2 Z" fill="#fff"/>
<path d="M-0.8,-7 L3.6,-7" stroke-width="1.2"/>
</g>
<g transform="translate(239.6,206.5) rotate(21.5)">
<path d="M0,-3.9 L21,-3.9 A1.9,3.9 0 0 1 21,3.9 L0,3.9 Z" fill="#fff"/>
<path d="M11,-3.9 A1.9,3.9 0 0 1 11,3.9" stroke="#a8a8a8" stroke-width="0.6"/>
<path d="M12.3,-3.9 A1.9,3.9 0 0 1 12.3,3.9" stroke="#a8a8a8" stroke-width="0.6"/>
<path d="M13.6,-3.9 A1.9,3.9 0 0 1 13.6,3.9" stroke="#a8a8a8" stroke-width="0.6"/>
<path d="M14.9,-3.9 A1.9,3.9 0 0 1 14.9,3.9" stroke="#a8a8a8" stroke-width="0.6"/>
<path d="M16.1,-3.9 A1.9,3.9 0 0 1 16.1,3.9" stroke="#a8a8a8" stroke-width="0.6"/>
<path d="M17.4,-3.9 A1.9,3.9 0 0 1 17.4,3.9" stroke="#a8a8a8" stroke-width="0.6"/>
<path d="M18.7,-3.9 A1.9,3.9 0 0 1 18.7,3.9" stroke="#a8a8a8" stroke-width="0.6"/>
<path d="M20,-3.9 A1.9,3.9 0 0 1 20,3.9" stroke="#a8a8a8" stroke-width="0.6"/>
<ellipse cx="0" cy="0" rx="1.9" ry="3.9" fill="#fff"/>
</g>
<ellipse cx="239.6" cy="206.5" rx="1.3" ry="2.4" fill="none" transform="rotate(21.5 239.6 206.5)" />
<path d="M236,206.5 L239,207.4" />
<path d="M247.6,227 C248.8,224 252.6,226.1 255,225.8 C257.4,225.5 260,224.8 262,225 C264,225.2 266.1,225.5 267,227 C267.9,228.5 267.5,231.8 267.5,234 C267.5,236.2 267.9,238.7 267,240 C266.1,241.3 264,241.5 262,242 C260,242.5 257.4,242.5 255,242.8 C252.6,243.1 248.8,246.2 247.6,243.6 C246.4,241 246.4,230 247.6,227 Z" fill="#fff" t="0.2"/>
<ellipse cx="247.6" cy="235.3" rx="4.6" ry="8.3" fill="#fff" />
<ellipse cx="247.9" cy="235.3" rx="3.4" ry="6.9" fill="none" stroke="#a0a0a0"/>
<path d="M243,236 L238.5,236.8" />
<g transform="translate(229.6,238) rotate(-3)">
<ellipse cx="2.2" cy="0" rx="5.8" ry="9.8" fill="#fff"/>
<path d="M0,-9.8 L2.2,-9.8 M0,9.8 L2.2,9.8"/>
<ellipse cx="0" cy="0" rx="5.8" ry="9.8" fill="#fff"/>
<ellipse cx="0" cy="0" rx="4.2" ry="7.8"/>
<path d="M-2.6,-9 L-1.6,-12.2 L5.9,-12.2 L5.3,-9.2 Z" fill="#fff"/>
<path d="M-1,-11 L4.8,-11" stroke-width="1.2"/>
</g>
<path d="M217,240 L224,239" stroke="#858585"/>
<path d="M236,236.5 L243,235" stroke="#858585"/>
<g stroke="#666">
<g transform="translate(250.6,268.4) rotate(178)">
<path d="M0,-17.8 L14,-17.8 A6.6,17.8 0 0 1 14,17.8 L0,17.8 Z" fill="#fff"/>
<path d="M4,-17.8 A6.6,17.8 0 0 1 4,17.8" stroke="#9c9c9c"/>
<ellipse cx="0" cy="0" rx="6.6" ry="17.8" fill="#fff"/>
</g>
</g>
<g transform="translate(250.6,268.4) rotate(178)">
<ellipse cx="0" cy="0" rx="5.2" ry="15.8" stroke="#555" stroke-width="1"/>
<ellipse cx="0.6" cy="0" rx="4.2" ry="14.4" stroke="#b0b0b0" stroke-width="0.6"/>
</g>
<path d="M250.1,252.7 L252.9,252.5" stroke="#555" stroke-width="1"/>
<path d="M253.2,259.2 L256,259" stroke="#555" stroke-width="1"/>
<path d="M254.4,266.2 L257.2,266" stroke="#555" stroke-width="1"/>
<path d="M254.1,273.7 L256.9,273.5" stroke="#555" stroke-width="1"/>
<path d="M252.4,280.7 L255.2,280.5" stroke="#555" stroke-width="1"/>
<path d="M249.6,285.2 L252.4,285" stroke="#555" stroke-width="1"/>
<path d="M238,257 C238.6,257.3 240.5,257.9 241.3,258.7 C242.1,259.5 242.7,261.4 243,262" stroke="#858585" stroke-width="0.7"/>
<path d="M237.5,264 C238.1,264.1 240.1,264 241.1,264.4 C242,264.9 242.7,266.2 243,266.5" stroke="#858585" stroke-width="0.7"/>
<path d="M237.5,271 C238.1,270.9 240.1,270.5 241.1,270.7 C242,270.9 242.7,271.8 243,272" stroke="#858585" stroke-width="0.7"/>
<path d="M238.5,278 C239.1,277.7 241,276.7 241.8,276.4 C242.6,276.2 243.2,276.5 243.5,276.5" stroke="#858585" stroke-width="0.7"/>
<path d="M242,258 C242.5,258.3 244.3,259 245.1,259.9 C245.8,260.9 246.3,262.9 246.5,263.5" stroke="#858585" stroke-width="0.7"/>
<path d="M242.5,269 C243,269 244.8,268.9 245.6,269.2 C246.3,269.5 246.8,270.7 247,271" stroke="#858585" stroke-width="0.7"/>
<path d="M241,282 C241.5,281.6 243.3,280.2 244.1,279.7 C244.8,279.2 245.3,279.1 245.5,279" stroke="#858585" stroke-width="0.7"/>
<ellipse cx="244" cy="268.5" rx="2.2" ry="3.6" fill="#fff" />
<ellipse cx="224.8" cy="252.8" rx="2.6" ry="2" fill="#fff" />
<ellipse cx="235.8" cy="293.4" rx="2.6" ry="2" fill="#fff" />
<path d="M218.2,295.5 L256,285.7" />
<ellipse cx="222" cy="277" rx="12.6" ry="20" fill="#fff" transform="rotate(-5 222 277)" stroke="#777"/>
<ellipse cx="221.5" cy="277" rx="10.8" ry="18" fill="none" transform="rotate(-5 221.5 277)" stroke="#444" stroke-width="1.1"/>
<ellipse cx="221" cy="277" rx="8.8" ry="15.6" fill="none" transform="rotate(-5 221 277)" stroke="#888"/>
<path d="M210.6,271.5 L214,268.5 L218.8,270 L219.5,279.5 L216,283 L211,281 Z" fill="#fff"/>
<ellipse cx="213.5" cy="276.6" rx="2.4" ry="3" fill="#fff" />
<path d="M230,260 L234.5,262 L235,291 L231,293" />
<path d="M216,297.5 C217.5,299.8 224.3,310 227.5,315 C230.7,320 236.7,330 240,335 C243.3,340 249.3,348.6 252.5,352.5 C255.7,356.4 261.9,362.9 264,364 C266.1,365.1 268.9,363.1 268,361 C267.1,358.9 260.5,352.4 257.5,348.5 C254.5,344.6 248.7,336.4 245.5,331.5 C242.3,326.6 236.6,316.9 233.5,312 C230.4,307.1 224.3,296.9 222,295 C219.7,293.1 216.8,297.2 216,297.5" fill="#d8d8d8" stroke="none"/>
<path d="M228.5,259 C231.8,262.5 237.9,270 243.5,277 C249.1,284 257.2,294.2 262,301 C266.8,307.8 269,312.8 272,318 C275,323.2 277.8,327.7 280.1,332 C282.4,336.3 284.8,340.4 285.9,343.6 C287,346.8 287.1,348.4 286.8,351.3 C286.5,354.2 285.4,358.3 284,360.9 C282.6,363.4 280.4,365.5 278.2,366.6 C276,367.7 273,368 270.6,367.6 C268.2,367.2 267,366.5 264,364 C261,361.5 256.5,357.3 252.5,352.5 C248.5,347.7 244.2,341.2 240,335 C235.8,328.8 231.5,321.2 227.5,315 C223.5,308.8 218.7,301.7 216,297.5 C213.3,293.3 212.8,292.9 211.5,290 C210.2,287.1 208.8,283.7 208,280 C207.2,276.3 206.8,271.3 207,268 C207.2,264.7 208.3,262.1 209.5,260 C210.7,257.9 212.4,256.4 214,255.5 C215.6,254.6 217.3,254.4 219,254.5 C220.7,254.6 222.4,255.2 224,256 C225.6,256.8 225.2,255.5 228.5,259 Z" stroke="#707070" stroke-width="0.9"/>
<path d="M225.5,261.5 C228.1,264.8 233.8,272.6 239,279.5 C244.2,286.4 252.2,296.2 257,303 C261.8,309.8 264.7,314.9 268,320 C271.3,325.1 274.6,329.4 277,333.5 C279.4,337.6 281.3,341.6 282.3,344.5 C283.3,347.4 283.2,348.7 283,351 C282.8,353.3 282.1,356.6 281,358.5 C279.9,360.4 278.1,361.8 276.6,362.6 C275.1,363.4 273.4,363.8 272,363.5 C270.6,363.2 270.4,363.5 268,361 C265.6,358.5 261.2,353.4 257.5,348.5 C253.8,343.6 249.5,337.6 245.5,331.5 C241.5,325.4 237.4,318.1 233.5,312 C229.6,305.9 224.8,299.1 222,295 C219.2,290.9 218.1,290.2 216.5,287.5 C214.9,284.8 213.3,282.2 212.5,279 C211.7,275.8 211.4,271.3 211.5,268.5 C211.6,265.7 212.5,263.6 213.3,262 C214.1,260.4 215.3,259.6 216.5,259 C217.7,258.4 219.3,258.2 220.5,258.3 C221.7,258.4 222.7,259 223.5,259.5 C224.3,260 222.9,258.2 225.5,261.5 Z" stroke="#707070" stroke-width="0.9"/>
<path d="M218.5,297 C220.4,299.8 226,307.9 230,314 C234,320.1 238.3,327.3 242.5,333.5 C246.7,339.7 251.2,346.2 255,351 C258.8,355.8 263.8,360.6 265.5,362.5" stroke="#b0b0b0" stroke-width="0.5"/>
<path d="M220.3,296.2 C222.2,299 228,306.9 232,313 C236,319.1 240.1,326.3 244.2,332.5 C248.3,338.7 252.7,345.2 256.5,350 C260.3,354.8 265.2,359.6 267,361.5" stroke="#bbb" stroke-width="0.5"/>
<path d="M226,309 L228.2,312" stroke="#fff" stroke-width="1.2"/>
<path d="M235,322.5 L237.2,325.5" stroke="#fff" stroke-width="1.2"/>
<path d="M247,340 L249.2,343" stroke="#fff" stroke-width="1.2"/>
<path d="M257,354 L259.2,357" stroke="#fff" stroke-width="1.2"/>
<ellipse cx="261.6" cy="263.5" rx="10.4" ry="18.8" fill="none" transform="rotate(-14 261.6 263.5)" stroke="#000" stroke-width="1.9"/>
<ellipse cx="261.4" cy="263.6" rx="8.8" ry="17.2" fill="none" transform="rotate(-14 261.4 263.6)" stroke="#a5a5a5" stroke-width="0.5"/>
<path d="M209.5,297.2 L218.5,296.6 L219,299.6 L209.8,300.2 Z" fill="#fff"/>
<path d="M211.5,296.9 L211.8,300.1" stroke="#858585" stroke-width="0.6"/>
<path d="M213.3,296.9 L213.6,300.1" stroke="#858585" stroke-width="0.6"/>
<path d="M215.1,296.9 L215.4,300.1" stroke="#858585" stroke-width="0.6"/>
<path d="M216.9,296.9 L217.2,300.1" stroke="#858585" stroke-width="0.6"/>
<path d="M205.6,297.2 L209.6,296.8 L210,300.6 L206,301 Z" fill="#333"/>
<ellipse cx="218.8" cy="298.1" rx="1.1" ry="1.8" fill="#fff" />
<path d="M468.2,312.2 L474.7,288.2 L482.5,293.5 L527.5,272.8 L546.7,286 L502.7,307 L509.5,313.3 Z" fill="#fff" stroke="#222" stroke-width="0.8"/>
<path d="M468.3,313.6 L509.9,315" stroke="#000" stroke-width="2.8" stroke-linecap="butt"/>
<path d="M503.2,308.4 L546.9,287.6" stroke="#000" stroke-width="2.7" stroke-linecap="butt"/>
<text x="303.6" y="296.7" font-size="12.5" fill="#000" stroke="none" style="will-change:transform">2</text>
<clipPath id="c1"><rect x="317" y="290" width="14" height="14.6"/><rect x="322.9" y="290" width="2.3" height="20"/></clipPath>
<text x="320" y="305.8" font-size="12.5" fill="#000" stroke="none" clip-path="url(#c1)" style="will-change:transform">1</text>
<text x="194.4" y="323.8" font-size="12.5" fill="#000" stroke="none" style="will-change:transform">3</text>
<path d="M312.8,285.2 C315.5,285.2 315.8,286.5 315.8,289 L315.8,297.5 C315.8,300 316.8,300.8 318.8,300.8 C316.8,301 315.8,302 315.8,304.5 L315.8,316 C315.8,318.5 315,319.2 312.8,319.2" stroke="#000" stroke-width="1.6"/>
<path d="M273.3,274.2 L302.5,290" stroke="#444" stroke-width="0.8"/>
<path d="M255.8,283.3 L310.8,313.3" stroke="#222" stroke-width="0.8"/>
<path d="M202.5,313 L207,301.5" stroke="#222" stroke-width="0.8"/>
</g>
</svg>
</body></html>
